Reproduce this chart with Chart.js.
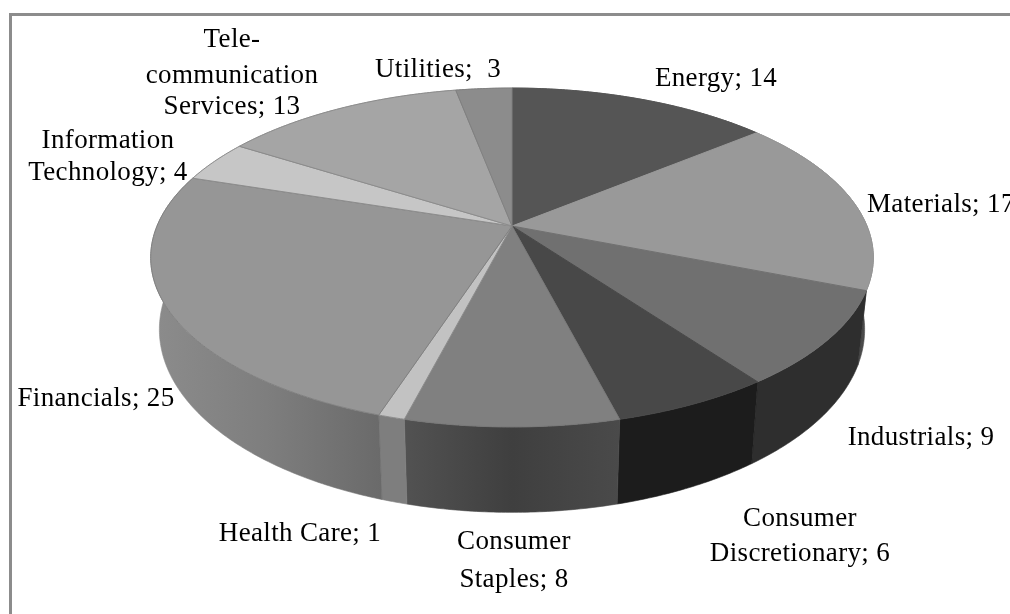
<!DOCTYPE html>
<html><head><meta charset="utf-8">
<style>html,body{margin:0;padding:0;background:#fff;overflow:hidden}#w{width:1010px;height:614px;position:relative}</style>
<script src="https://cdn.jsdelivr.net/npm/chart.js@4/dist/chart.umd.min.js"></script>
</head><body><div id="w"><canvas id="c" width="1010" height="614"></canvas></div>
<script>
const categories = ['Energy','Materials','Industrials','Consumer Discretionary','Consumer Staples','Health Care','Financials','Information Technology','Telecommunication Services','Utilities'];
const values = [14,17,9,6,8,1,25,4,13,3];
const topColors = ['#555555','#999999','#707070','#484848','#808080','#c2c2c2','#969696','#c6c6c6','#a5a5a5','#8c8c8c'];
const edgeColors = ['#555555','#999999','#707070','#484848','#787878','#8c8c8c','#808080','#8c8c8c','#8c8c8c','#808080'];
const wallStops = [['#555555'],['#4a4a4a'],['#2e2e2e'],['#1c1c1c'],['#525252','#3f3f3f','#4a4a4a'],['#7e7e7e'],['#8c8c8c','#7e7e7e','#6a6a6a'],['#aaaaaa'],['#999999'],['#777777']];
const labelLines = [['Energy; 14'],['Materials; 17'],['Industrials; 9'],['Consumer','Discretionary; 6'],['Consumer','Staples; 8'],['Health Care; 1'],['Financials; 25'],['Information','Technology; 4'],['Tele-','communication','Services; 13'],['Utilities;  3']];

const view = {cx:512, cy:226, A:355, B:163.6, k:0.186, D:69.5, shrink:0.976};
const labelSpots = [
 {x:716,y:[86]},{x:867,y:[212],left:true},{x:921,y:[445]},{x:800,y:[526,561]},{x:514,y:[549,587]},
 {x:300,y:[541]},{x:96,y:[406]},{x:108,y:[148,180]},{x:232,y:[47,83,114]},{x:438,y:[77]}
];

function topPt(u,v){const d=1-view.k*v;return [view.cx+view.A*u/d, view.cy+view.B*v/d];}
function lowPt(u,v){const d=1-view.k*v;return [view.cx+view.shrink*view.A*u/d, view.cy+(view.B*v+view.D)/d];}

const pie3d = {
 id:'pie3d',
 beforeDatasetsDraw(chart){
  const ctx=chart.ctx, arcs=chart.getDatasetMeta(0).data;
  // frame
  ctx.save();
  ctx.fillStyle='#8c8c8c';
  ctx.fillRect(9,13,1001,3);
  ctx.fillRect(9,13,3,601);
  const rim=(el)=>{const n=Math.max(2,Math.ceil((el.endAngle-el.startAngle)/0.01)),p=[];
    for(let i=0;i<=n;i++){const a=el.startAngle+(el.endAngle-el.startAngle)*i/n;p.push([Math.cos(a),Math.sin(a)]);}return p;};
  // walls
  arcs.forEach((el,i)=>{
    const p=rim(el),up=p.map(q=>topPt(q[0],q[1])),lo=p.map(q=>lowPt(q[0],q[1]));
    const xs=up.concat(lo).map(q=>q[0]),x0=Math.min(...xs),x1=Math.max(...xs);
    const g=ctx.createLinearGradient(x0,0,x1,0),st=wallStops[i];
    st.forEach((c,j)=>g.addColorStop(st.length>1?j/(st.length-1):0,c));
    if(st.length===1)g.addColorStop(1,st[0]);
    ctx.beginPath();
    up.forEach((q,j)=>j?ctx.lineTo(q[0],q[1]):ctx.moveTo(q[0],q[1]));
    lo.reverse().forEach(q=>ctx.lineTo(q[0],q[1]));
    ctx.closePath();
    ctx.fillStyle=g;ctx.strokeStyle=g;ctx.lineWidth=0.6;ctx.fill();ctx.stroke();
  });
  // top faces
  arcs.forEach((el,i)=>{
    ctx.beginPath();ctx.moveTo(view.cx,view.cy);
    rim(el).forEach(q=>{const t=topPt(q[0],q[1]);ctx.lineTo(t[0],t[1]);});
    ctx.closePath();
    ctx.fillStyle=el.options.backgroundColor;ctx.fill();
    ctx.strokeStyle=el.options.borderColor;ctx.lineWidth=1;ctx.stroke();
  });
  // labels
  ctx.fillStyle='#000';ctx.font='27px "Liberation Serif"';ctx.textBaseline='alphabetic';ctx.letterSpacing='0.35px';
  labelLines.forEach((lines,i)=>{const s=labelSpots[i];
    ctx.textAlign=s.left?'left':'center';
    lines.forEach((t,j)=>ctx.fillText(t,s.x,s.y[j]));});
  ctx.restore();
  return false;
 }
};

new Chart(document.getElementById('c'),{
 type:'pie',
 data:{labels:categories,datasets:[{data:values,backgroundColor:topColors,borderColor:edgeColors,borderWidth:1}]},
 options:{responsive:false,animation:false,events:[],plugins:{legend:{display:false},tooltip:{enabled:false}}},
 plugins:[pie3d]
});
</script></body></html>
